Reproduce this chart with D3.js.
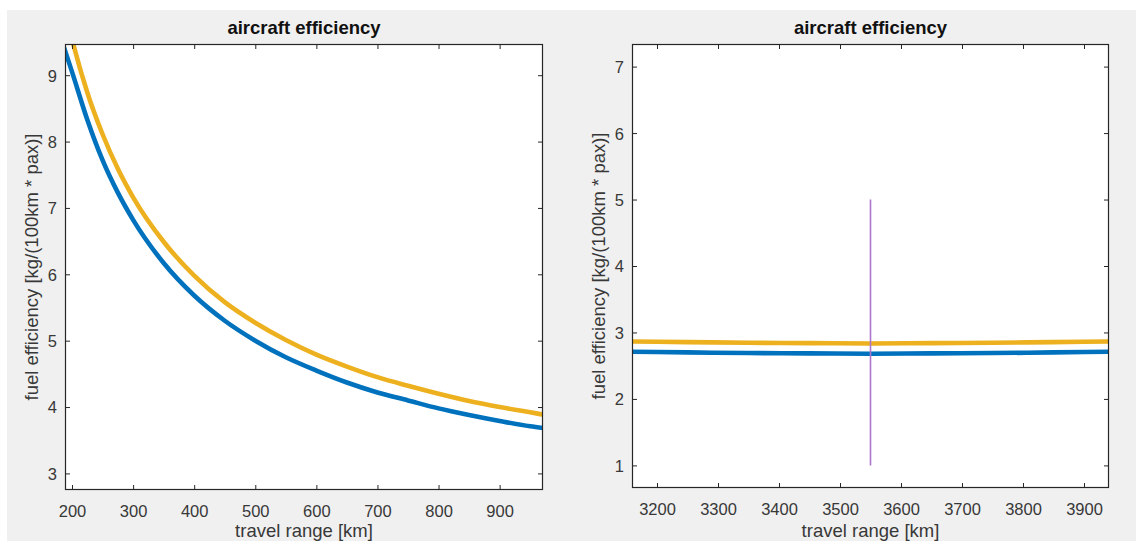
<!DOCTYPE html>
<html>
<head>
<meta charset="utf-8">
<script src="https://cdn.jsdelivr.net/npm/d3@7"></script>
<style>
  html, body { margin: 0; padding: 0; background: #fff; }
  svg { display: block; }
  text { font-family: "Liberation Sans", Arial, Helvetica, sans-serif; }
</style>
</head>
<body>
<svg id="chart" width="1136" height="541"></svg>
<script>
// Short-haul range sweep (left panel)
const shortRange = [185, 200, 225, 250, 275, 300, 350, 400, 450, 500, 550, 600, 650, 700, 750, 800, 850, 900, 950, 975];
const shortBlue  = [9.47, 9.05, 8.33, 7.72, 7.23, 6.82, 6.17, 5.68, 5.30, 5.00, 4.75, 4.55, 4.37, 4.22, 4.10, 3.98, 3.88, 3.79, 3.71, 3.68];
const shortGold  = [10.11, 9.54, 8.74, 8.11, 7.59, 7.16, 6.49, 5.98, 5.58, 5.27, 5.01, 4.79, 4.61, 4.45, 4.32, 4.20, 4.09, 4.00, 3.92, 3.88];

// Long-haul range sweep around the design point (right panel)
const longRange = [3150, 3250, 3350, 3450, 3550, 3650, 3750, 3850, 3950];
const longBlue  = [2.71, 2.70, 2.69, 2.685, 2.68, 2.685, 2.69, 2.70, 2.71];
const longGold  = [2.865, 2.855, 2.845, 2.84, 2.835, 2.84, 2.845, 2.855, 2.865];

// Design range marker
const designRange = [3550];
const designSpan  = [1, 5];

// Axis limits and ticks
const shortXDomain = [188.5, 971];
const shortYDomain = [2.75, 9.47];
const shortXTicks = [200, 300, 400, 500, 600, 700, 800, 900];
const shortYTicks = [3, 4, 5, 6, 7, 8, 9];

const longXDomain = [3159, 3941];
const longYDomain = [0.66, 7.34];
const longXTicks = [3200, 3300, 3400, 3500, 3600, 3700, 3800, 3900];
const longYTicks = [1, 2, 3, 4, 5, 6, 7];

const titleText = "aircraft efficiency";
const xLabelText = "travel range [km]";
const yLabelText = "fuel efficiency [kg/(100km * pax)]";

const BLUE = "#0072BD", GOLD = "#EDB120", PURPLE = "#AA76CE";
const AXIS = "#262626";

const svg = d3.select("#chart");

// figure background
svg.append("rect").attr("x", 7).attr("y", 10).attr("width", 1129).attr("height", 531).attr("fill", "#f0f0f0");

function panel(id, box, xDomain, yDomain, xTicks, yTicks, series, extra) {
  const x = d3.scaleLinear().domain(xDomain).range([box.left, box.right]);
  const y = d3.scaleLinear().domain(yDomain).range([box.bottom, box.top]);
  const w = box.right - box.left, h = box.bottom - box.top;
  const g = svg.append("g");

  g.append("rect").attr("x", box.left).attr("y", box.top).attr("width", w).attr("height", h).attr("fill", "#fff");

  g.append("clipPath").attr("id", id).append("rect")
    .attr("x", box.left).attr("y", box.top).attr("width", w).attr("height", h);

  const plot = g.append("g").attr("clip-path", `url(#${id})`);
  const line = d3.line().x(d => x(d[0])).y(d => y(d[1])).curve(d3.curveMonotoneX);
  series.forEach(s => {
    plot.append("path")
      .datum(s.xs.map((v, i) => [v, s.ys[i]]))
      .attr("fill", "none").attr("stroke", s.color).attr("stroke-width", 4.6)
      .attr("stroke-linejoin", "round").attr("d", line);
  });
  if (extra) extra(plot, x, y);

  const tickLen = 5;
  const styleAxis = (sel, showLabels) => {
    sel.select(".domain").remove();
    sel.selectAll(".tick line").attr("stroke", AXIS).attr("stroke-width", 1);
    sel.selectAll(".tick text")
      .attr("fill", "#383838").attr("font-size", "16.5px")
      .style("display", showLabels ? null : "none");
  };

  g.append("g").attr("transform", `translate(0,${box.bottom})`)
    .call(d3.axisBottom(x).tickValues(xTicks).tickSizeInner(-tickLen).tickSizeOuter(0).tickPadding(14).tickFormat(d3.format("d")))
    .call(s => styleAxis(s, true))
    .call(s => s.selectAll(".tick text").attr("dy", null).attr("y", 26.5));

  g.append("g").attr("transform", `translate(0,${box.top})`)
    .call(d3.axisTop(x).tickValues(xTicks).tickSizeInner(-tickLen).tickSizeOuter(0))
    .call(s => styleAxis(s, false));

  g.append("g").attr("transform", `translate(${box.left},0)`)
    .call(d3.axisLeft(y).tickValues(yTicks).tickSizeInner(-tickLen).tickSizeOuter(0).tickPadding(12).tickFormat(d3.format("d")))
    .call(s => styleAxis(s, true))
    .call(s => s.selectAll(".tick text").attr("x", -8).attr("dy", "0.36em"));

  g.append("g").attr("transform", `translate(${box.right},0)`)
    .call(d3.axisRight(y).tickValues(yTicks).tickSizeInner(-tickLen).tickSizeOuter(0))
    .call(s => styleAxis(s, false));

  g.append("rect").attr("x", box.left + 0.5).attr("y", box.top + 0.5)
    .attr("width", w - 1).attr("height", h - 1)
    .attr("fill", "none").attr("stroke", AXIS).attr("stroke-width", 1.2);

  const cx = (box.left + box.right) / 2;
  g.append("text").attr("x", cx).attr("y", 34).attr("text-anchor", "middle")
    .attr("font-size", "18.5px").attr("font-weight", "bold").attr("fill", "#111").text(titleText);

  g.append("text").attr("x", cx).attr("y", 536.5).attr("text-anchor", "middle")
    .attr("font-size", "18.5px").attr("fill", "#383838").text(xLabelText);

  const cy = (box.top + box.bottom) / 2;
  g.append("text").attr("transform", `translate(${box.left - 27},${cy}) rotate(-90)`)
    .attr("text-anchor", "middle").attr("font-size", "18.5px").attr("fill", "#383838").text(yLabelText);
}

panel("clipA", { left: 65, right: 543, top: 44, bottom: 490 },
  shortXDomain, shortYDomain, shortXTicks, shortYTicks,
  [ { xs: shortRange, ys: shortGold, color: GOLD },
    { xs: shortRange, ys: shortBlue, color: BLUE } ]);

panel("clipB", { left: 632, right: 1109, top: 44, bottom: 488 },
  longXDomain, longYDomain, longXTicks, longYTicks,
  [ { xs: longRange, ys: longGold, color: GOLD },
    { xs: longRange, ys: longBlue, color: BLUE } ],
  (plot, x, y) => {
    plot.selectAll("line.design").data(designRange).enter().append("line")
      .attr("class", "design")
      .attr("x1", d => x(d)).attr("x2", d => x(d))
      .attr("y1", y(designSpan[0])).attr("y2", y(designSpan[1]))
      .attr("stroke", PURPLE).attr("stroke-width", 1.6);
  });
</script>
</body>
</html>
